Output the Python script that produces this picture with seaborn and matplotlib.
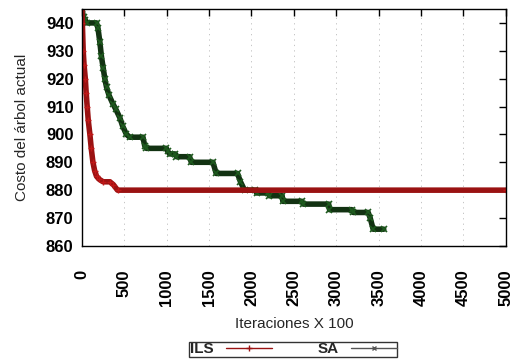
import matplotlib
matplotlib.use("Agg")
import matplotlib.pyplot as plt
from matplotlib.lines import Line2D
import seaborn as sns
import pandas as pd

ils_x = [0, 5, 15, 25, 40, 50, 62, 75, 94, 110, 130, 150, 172, 200, 250, 330, 370, 420, 5000]
ils_y = [945, 940, 930, 925, 920, 915, 910, 905, 900, 895, 890, 887, 885, 884, 883, 883, 882, 880, 880]

sa_x = [0, 20, 40, 60, 172, 190, 212, 230, 250, 270, 290, 320, 365, 400, 447, 480, 525, 565, 720,
        740, 760, 996, 1010, 1035, 1100, 1114, 1270, 1290, 1545, 1584, 1835, 1870, 1918, 2047,
        2060, 2200, 2210, 2361, 2370, 2596, 2610, 2910, 2920, 3184, 3200, 3376, 3400, 3435, 3560]
sa_y = [945, 942, 941, 940, 940, 938, 933, 928, 924, 920, 917, 914, 911, 909, 906, 903, 900, 899, 899,
        896, 895, 895, 894, 893, 893, 892, 892, 890, 890, 886, 886, 883, 880, 880,
        879, 879, 878, 878, 876, 876, 875, 875, 873, 873, 872, 872, 870, 866, 866]

x_ticks = [0, 500, 1000, 1500, 2000, 2500, 3000, 3500, 4000, 4500, 5000]
y_ticks = [860, 870, 880, 890, 900, 910, 920, 930, 940]

ILS_C = "#9a1212"
SA_C = "#123212"

sns.set_style("white")
plt.rcParams['font.family'] = ['Liberation Sans', 'DejaVu Sans']

fig, ax = plt.subplots(figsize=(5.12, 3.59), dpi=100)
fig.subplots_adjust(left=0.16, right=0.988, top=0.975, bottom=0.315)

df_ils = pd.DataFrame({"x": ils_x, "y": ils_y})
df_sa = pd.DataFrame({"x": sa_x, "y": sa_y})

ax.grid(True, axis="x", linestyle=(0, (1.5, 5)), color="#bbbbbb", lw=0.6)
ax.set_axisbelow(True)

sns.lineplot(data=df_sa, x="x", y="y", ax=ax, color=SA_C, lw=4,
             marker="x", markersize=4, mew=1.2, mec="#1e5a1e", mfc="#1e5a1e", legend=False)
sns.lineplot(data=df_ils, x="x", y="y", ax=ax, color=ILS_C, lw=4,
             marker="+", markersize=5, mew=1.0, mec="#c01818", mfc="#c01818", legend=False)

ax.set_xlim(0, 5000)
ax.set_ylim(860, 945)
ax.set_xticks(x_ticks)
ax.set_yticks(y_ticks)
ax.set_xticklabels([str(t) for t in x_ticks], rotation=90, fontsize=12, fontweight="bold")
ax.set_yticklabels([str(t) for t in y_ticks], fontsize=12, fontweight="bold")
ax.tick_params(direction="in", length=5, width=1, top=True, right=True, colors="black")
ax.tick_params(axis="x", pad=17)
ax.tick_params(axis="y", pad=6)
for s in ax.spines.values():
    s.set_color("black")
    s.set_linewidth(1)
ax.set_xlabel("Iteraciones X 100", fontsize=11, labelpad=8)
ax.set_ylabel("Costo del árbol actual", fontsize=11, labelpad=12)

h_ils = Line2D([], [], color=ILS_C, lw=1, marker="+", markersize=4)
h_sa = Line2D([], [], color="#555555", lw=1, marker="x", markersize=3)
leg = ax.legend([h_ils, h_sa], ["ILS", "SA"], loc="center", bbox_to_anchor=(0.573, 0.027),
                bbox_transform=fig.transFigure, ncol=2, markerfirst=False, frameon=True,
                fancybox=False, edgecolor="black", handlelength=3,
                borderpad=0.05, columnspacing=3.0, handletextpad=0.8,
                prop={"size": 11, "weight": "bold"})
leg.get_frame().set_linewidth(1)

fig.savefig("out.png", dpi=100)
